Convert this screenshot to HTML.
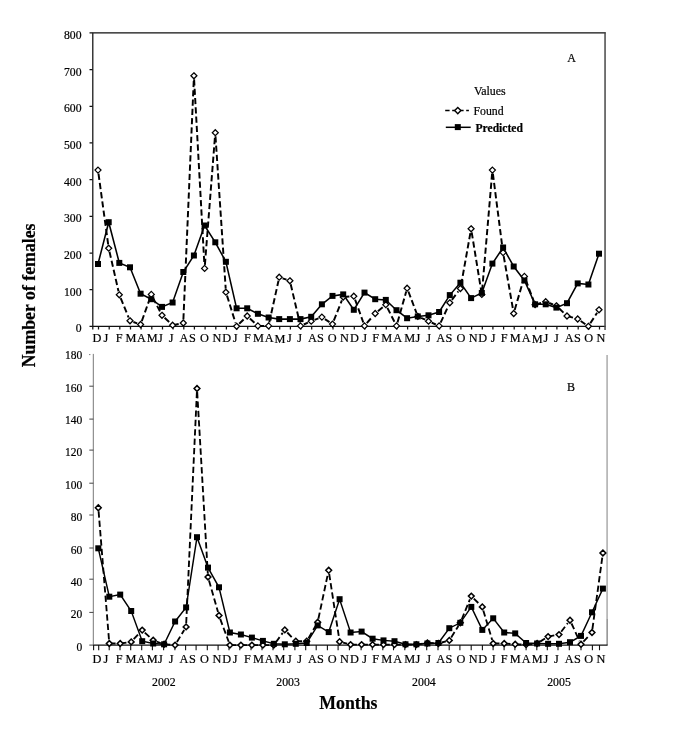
<!DOCTYPE html>
<html><head><meta charset="utf-8"><title>Number of females per month</title>
<style>
html,body{margin:0;padding:0;background:#fff;}
body{width:685px;height:740px;overflow:hidden;}
svg{display:block;font-family:"Liberation Serif","Times New Roman",serif;fill:#000;}
text{stroke:#000;stroke-width:0.2px;}
.tk{font-size:11.7px;text-anchor:end;}
.ml{font-size:12.3px;fill:#000;stroke-width:0.3px;text-anchor:middle;}
.yr{font-size:11.8px;text-anchor:middle;}
.ttl{font-size:17.8px;font-weight:bold;text-anchor:middle;fill:#000;}
</style></head><body>
<svg width="685" height="740" viewBox="0 0 685 740">
<rect width="685" height="740" fill="#fff"/>

<g fill="none" stroke="#111" stroke-width="1.25">
<path d="M605.6 32.9H92.8V326.3H605.6"/>
<path d="M605.05 32.3V330" stroke="#484848" stroke-width="1.5"/>
<path d="M89.5 326.3H92.6M89.5 289.6H92.6M89.5 253.0H92.6M89.5 216.3H92.6M89.5 179.6H92.6M89.5 142.9H92.6M89.5 106.3H92.6M89.5 69.6H92.6M89.5 32.9H92.6"/>
<path d="M92.8 326.3V329.6M98.5 326.3V329.6M109.2 326.3V329.6M119.8 326.3V329.6M130.5 326.3V329.6M141.1 326.3V329.6M151.8 326.3V329.6M162.5 326.3V329.6M173.1 326.3V329.6M183.8 326.3V329.6M194.4 326.3V329.6M205.1 326.3V329.6M215.8 326.3V329.6M226.4 326.3V329.6M237.1 326.3V329.6M247.7 326.3V329.6M258.4 326.3V329.6M269.1 326.3V329.6M279.7 326.3V329.6M290.4 326.3V329.6M301.0 326.3V329.6M311.7 326.3V329.6M322.4 326.3V329.6M333.0 326.3V329.6M343.7 326.3V329.6M354.3 326.3V329.6M365.0 326.3V329.6M375.7 326.3V329.6M386.3 326.3V329.6M397.0 326.3V329.6M407.6 326.3V329.6M418.3 326.3V329.6M429.0 326.3V329.6M439.6 326.3V329.6M450.3 326.3V329.6M460.9 326.3V329.6M471.6 326.3V329.6M482.3 326.3V329.6M492.9 326.3V329.6M503.6 326.3V329.6M514.2 326.3V329.6M524.9 326.3V329.6M535.6 326.3V329.6M546.2 326.3V329.6M556.9 326.3V329.6M567.5 326.3V329.6M578.2 326.3V329.6M588.9 326.3V329.6M599.5 326.3V329.6"/>
</g>
<text class="tk" x="81.5" y="332.2">0</text>
<text class="tk" x="81.5" y="295.5">100</text>
<text class="tk" x="81.5" y="258.8">200</text>
<text class="tk" x="81.5" y="222.1">300</text>
<text class="tk" x="81.5" y="185.5">400</text>
<text class="tk" x="81.5" y="148.8">500</text>
<text class="tk" x="81.5" y="112.1">600</text>
<text class="tk" x="81.5" y="75.5">700</text>
<text class="tk" x="81.5" y="38.8">800</text>
<g fill="none">
<path d="M93.3 353.9V645.1" stroke="#777" stroke-width="1"/>
<path d="M607.1 355V619" stroke="#b0b0b0" stroke-width="1.6"/>
<path d="M607.1 619V645.2" stroke="#555" stroke-width="1"/>
<path d="M93.4 645.1H607.6" stroke="#111" stroke-width="1.1"/>
<path d="M89.3 645.1H93.4M89.3 612.4H93.4M89.3 579.2H93.4M89.3 548.0H93.4M89.3 515.0H93.4M89.3 483.2H93.4M89.3 450.1H93.4M89.3 419.1H93.4M89.3 386.2H93.4M89.3 354.6H90.3" stroke="#444" stroke-width="1"/>
<path d="M93.6 645.1V650.2M98.7 645.1V650.2M109.2 645.1V650.2M120 645.1V650.2M130.7 645.1V650.2M141.7 645.1V650.2M152.4 645.1V650.2M163.6 645.1V650.2M174.9 645.1V650.2M185.6 645.1V650.2M196.1 645.1V650.2M207.3 645.1V650.2M218.1 645.1V650.2M229 645.1V650.2M239.8 645.1V650.2M251 645.1V650.2M262 645.1V650.2M273 645.1V650.2M283.7 645.1V650.2M294.9 645.1V650.2M305.7 645.1V650.2M316.2 645.1V650.2M327.4 645.1V650.2M338.1 645.1V650.2M349.4 645.1V650.2M361.1 645.1V650.2M372.3 645.1V650.2M382.8 645.1V650.2M393.5 645.1V650.2M404.8 645.1V650.2M415.5 645.1V650.2M426.7 645.1V650.2M438 645.1V650.2M449.2 645.1V650.2M459.9 645.1V650.2M471.2 645.1V650.2M482.4 645.1V650.2M493.1 645.1V650.2M504.1 645.1V650.2M514.9 645.1V650.2M526.1 645.1V650.2M536.8 645.1V650.2M547.3 645.1V650.2M558 645.1V650.2M569.3 645.1V650.2M581 645.1V650.2M592.4 645.1V650.2M599.5 645.1V650.2" stroke="#111" stroke-width="1.1"/>
</g>
<text class="tk" x="82.3" y="650.8" style="font-size:11.5px">0</text>
<text class="tk" x="82.3" y="618.4" style="font-size:11.5px">20</text>
<text class="tk" x="82.3" y="586.0" style="font-size:11.5px">40</text>
<text class="tk" x="82.3" y="553.6" style="font-size:11.5px">60</text>
<text class="tk" x="82.3" y="521.2" style="font-size:11.5px">80</text>
<text class="tk" x="82.3" y="488.8" style="font-size:11.5px">100</text>
<text class="tk" x="82.3" y="456.4" style="font-size:11.5px">120</text>
<text class="tk" x="82.3" y="424.0" style="font-size:11.5px">140</text>
<text class="tk" x="82.3" y="391.6" style="font-size:11.5px">160</text>
<text class="tk" x="82.3" y="359.2" style="font-size:11.5px">180</text>
<path d="M98.5 173.7L108.2 244.6M109.5 251.7L118.5 291.3M120.7 298.1L128.6 317.5M133.4 322.0L137.2 323.3M141.8 321.1L150.1 297.8M152.9 297.6L160.3 312.1M164.6 317.7L170.0 322.7M172.6 325.2L183.3 323.0M183.4 319.4L193.8 79.4M194.1 79.4L204.4 264.8M204.9 264.8L215.0 136.3M215.5 136.3L225.7 288.6M227.0 295.6L235.5 322.9M239.2 323.8L244.6 318.5M249.9 318.5L255.3 323.5M257.9 325.9L268.6 325.9M269.3 322.4L278.5 280.7M282.6 278.3L286.5 279.7M290.7 284.3L299.7 322.4M303.8 324.5L307.9 322.6M314.6 319.9L318.5 318.4M324.9 319.1L329.5 322.1M333.8 320.7L341.9 300.3M343.2 297.0L353.8 296.2M355.1 299.6L363.3 322.5M366.8 323.2L372.8 316.2M377.9 311.2L383.0 307.0M387.4 307.9L394.9 322.7M397.5 322.5L406.2 291.6M408.4 291.5L416.5 313.0M421.1 317.9L425.2 319.7M431.7 322.6L435.8 324.5M440.6 322.7L448.3 306.1M451.9 299.9L458.3 291.4M461.1 285.0L470.5 232.3M471.7 232.3L481.2 290.8M482.1 290.8L492.1 173.7M492.9 173.7L502.6 249.0M503.7 256.1L513.1 309.9M514.7 310.0L523.4 279.9M525.7 279.8L533.8 301.3M535.1 304.7L545.7 301.7M549.1 303.0L553.0 304.5M559.0 308.3L564.4 313.5M567.0 316.0L577.7 319.0M580.7 321.0L585.4 324.3M590.3 323.3L597.1 312.8" fill="none" stroke="#000" stroke-width="1.95" stroke-dasharray="6.2 3.1"/>
<polyline points="98.0,264.0 108.7,222.2 119.3,262.9 130.0,267.3 140.6,293.7 151.3,299.2 162.0,306.9 172.6,302.5 183.3,272.0 193.9,255.5 204.6,225.5 215.3,242.3 225.9,261.8 236.6,308.3 247.2,308.3 257.9,313.8 268.6,317.5 279.2,319.1 289.9,319.1 300.5,319.1 311.2,316.8 321.9,304.3 332.5,295.9 343.2,294.4 353.8,309.8 364.5,292.6 375.2,299.2 385.8,299.9 396.5,310.2 407.1,318.2 417.8,316.4 428.5,315.3 439.1,312.0 449.8,295.1 460.4,282.7 471.1,298.1 481.8,292.9 492.4,263.6 503.1,247.5 513.7,266.5 524.4,280.5 535.1,304.3 545.7,304.3 556.4,307.6 567.0,303.2 577.7,283.4 588.4,284.5 599.0,253.7" fill="none" stroke="#000" stroke-width="1.55"/>
<g fill="#fff" stroke="#000" stroke-width="1.25"><path d="M98.0 167.1L101.0 170.1L98.0 173.1L95.0 170.1Z"/><path d="M108.7 245.2L111.7 248.2L108.7 251.2L105.7 248.2Z"/><path d="M119.3 291.8L122.3 294.8L119.3 297.8L116.3 294.8Z"/><path d="M130.0 317.8L133.0 320.8L130.0 323.8L127.0 320.8Z"/><path d="M140.6 321.5L143.6 324.5L140.6 327.5L137.6 324.5Z"/><path d="M151.3 291.4L154.3 294.4L151.3 297.4L148.3 294.4Z"/><path d="M162.0 312.3L165.0 315.3L162.0 318.3L159.0 315.3Z"/><path d="M172.6 322.2L175.6 325.2L172.6 328.2L169.6 325.2Z"/><path d="M183.3 320.0L186.3 323.0L183.3 326.0L180.3 323.0Z"/><path d="M193.9 72.8L196.9 75.8L193.9 78.8L190.9 75.8Z"/><path d="M204.6 265.4L207.6 268.4L204.6 271.4L201.6 268.4Z"/><path d="M215.3 129.7L218.3 132.7L215.3 135.7L212.3 132.7Z"/><path d="M225.9 289.2L228.9 292.2L225.9 295.2L222.9 292.2Z"/><path d="M236.6 323.3L239.6 326.3L236.6 329.3L233.6 326.3Z"/><path d="M247.2 313.0L250.2 316.0L247.2 319.0L244.2 316.0Z"/><path d="M257.9 322.9L260.9 325.9L257.9 328.9L254.9 325.9Z"/><path d="M268.6 322.9L271.6 325.9L268.6 328.9L265.6 325.9Z"/><path d="M279.2 274.2L282.2 277.2L279.2 280.2L276.2 277.2Z"/><path d="M289.9 277.8L292.9 280.8L289.9 283.8L286.9 280.8Z"/><path d="M300.5 322.9L303.5 325.9L300.5 328.9L297.5 325.9Z"/><path d="M311.2 318.2L314.2 321.2L311.2 324.2L308.2 321.2Z"/><path d="M321.9 314.1L324.9 317.1L321.9 320.1L318.9 317.1Z"/><path d="M332.5 321.1L335.5 324.1L332.5 327.1L329.5 324.1Z"/><path d="M343.2 294.0L346.2 297.0L343.2 300.0L340.2 297.0Z"/><path d="M353.8 293.2L356.8 296.2L353.8 299.2L350.8 296.2Z"/><path d="M364.5 322.9L367.5 325.9L364.5 328.9L361.5 325.9Z"/><path d="M375.2 310.5L378.2 313.5L375.2 316.5L372.2 313.5Z"/><path d="M385.8 301.7L388.8 304.7L385.8 307.7L382.8 304.7Z"/><path d="M396.5 322.9L399.5 325.9L396.5 328.9L393.5 325.9Z"/><path d="M407.1 285.2L410.1 288.2L407.1 291.2L404.1 288.2Z"/><path d="M417.8 313.4L420.8 316.4L417.8 319.4L414.8 316.4Z"/><path d="M428.5 318.2L431.5 321.2L428.5 324.2L425.5 321.2Z"/><path d="M439.1 322.9L442.1 325.9L439.1 328.9L436.1 325.9Z"/><path d="M449.8 299.8L452.8 302.8L449.8 305.8L446.8 302.8Z"/><path d="M460.4 285.5L463.4 288.5L460.4 291.5L457.4 288.5Z"/><path d="M471.1 225.8L474.1 228.8L471.1 231.8L468.1 228.8Z"/><path d="M481.8 291.4L484.8 294.4L481.8 297.4L478.8 294.4Z"/><path d="M492.4 167.1L495.4 170.1L492.4 173.1L489.4 170.1Z"/><path d="M503.1 249.6L506.1 252.6L503.1 255.6L500.1 252.6Z"/><path d="M513.7 310.5L516.7 313.5L513.7 316.5L510.7 313.5Z"/><path d="M524.4 273.4L527.4 276.4L524.4 279.4L521.4 276.4Z"/><path d="M535.1 301.7L538.1 304.7L535.1 307.7L532.1 304.7Z"/><path d="M545.7 298.7L548.7 301.7L545.7 304.7L542.7 301.7Z"/><path d="M556.4 302.8L559.4 305.8L556.4 308.8L553.4 305.8Z"/><path d="M567.0 313.0L570.0 316.0L567.0 319.0L564.0 316.0Z"/><path d="M577.7 316.0L580.7 319.0L577.7 322.0L574.7 319.0Z"/><path d="M588.4 323.3L591.4 326.3L588.4 329.3L585.4 326.3Z"/><path d="M599.0 306.8L602.0 309.8L599.0 312.8L596.0 309.8Z"/></g>
<g fill="#000"><rect x="95.0" y="261.0" width="6" height="6"/><rect x="105.7" y="219.2" width="6" height="6"/><rect x="116.3" y="259.9" width="6" height="6"/><rect x="127.0" y="264.3" width="6" height="6"/><rect x="137.6" y="290.7" width="6" height="6"/><rect x="148.3" y="296.2" width="6" height="6"/><rect x="159.0" y="303.9" width="6" height="6"/><rect x="169.6" y="299.5" width="6" height="6"/><rect x="180.3" y="269.0" width="6" height="6"/><rect x="190.9" y="252.5" width="6" height="6"/><rect x="201.6" y="222.5" width="6" height="6"/><rect x="212.3" y="239.3" width="6" height="6"/><rect x="222.9" y="258.8" width="6" height="6"/><rect x="233.6" y="305.3" width="6" height="6"/><rect x="244.2" y="305.3" width="6" height="6"/><rect x="254.9" y="310.8" width="6" height="6"/><rect x="265.6" y="314.5" width="6" height="6"/><rect x="276.2" y="316.1" width="6" height="6"/><rect x="286.9" y="316.1" width="6" height="6"/><rect x="297.5" y="316.1" width="6" height="6"/><rect x="308.2" y="313.8" width="6" height="6"/><rect x="318.9" y="301.3" width="6" height="6"/><rect x="329.5" y="292.9" width="6" height="6"/><rect x="340.2" y="291.4" width="6" height="6"/><rect x="350.8" y="306.8" width="6" height="6"/><rect x="361.5" y="289.6" width="6" height="6"/><rect x="372.2" y="296.2" width="6" height="6"/><rect x="382.8" y="296.9" width="6" height="6"/><rect x="393.5" y="307.2" width="6" height="6"/><rect x="404.1" y="315.2" width="6" height="6"/><rect x="414.8" y="313.4" width="6" height="6"/><rect x="425.5" y="312.3" width="6" height="6"/><rect x="436.1" y="309.0" width="6" height="6"/><rect x="446.8" y="292.1" width="6" height="6"/><rect x="457.4" y="279.7" width="6" height="6"/><rect x="468.1" y="295.1" width="6" height="6"/><rect x="478.8" y="289.9" width="6" height="6"/><rect x="489.4" y="260.6" width="6" height="6"/><rect x="500.1" y="244.5" width="6" height="6"/><rect x="510.7" y="263.5" width="6" height="6"/><rect x="521.4" y="277.5" width="6" height="6"/><rect x="532.1" y="301.3" width="6" height="6"/><rect x="542.7" y="301.3" width="6" height="6"/><rect x="553.4" y="304.6" width="6" height="6"/><rect x="564.0" y="300.2" width="6" height="6"/><rect x="574.7" y="280.4" width="6" height="6"/><rect x="585.4" y="281.5" width="6" height="6"/><rect x="596.0" y="250.7" width="6" height="6"/></g>
<path d="M98.6 511.3L109.0 639.9M109.3 643.5L120.2 643.5M120.2 643.5L131.2 641.9M133.7 639.2L139.7 632.7M144.8 632.6L150.5 637.8M156.5 641.5L160.7 643.1M164.1 644.3L175.1 645.1M176.9 642.0L184.2 630.0M186.2 623.3L196.9 392.1M197.2 392.1L207.8 573.4M209.0 580.4L218.0 612.1M220.2 618.9L228.7 641.7M229.9 645.1L240.9 645.1M240.9 645.1L251.9 645.1M251.9 645.1L262.9 645.1M262.9 645.1L273.8 645.1M275.9 642.2L282.7 632.9M287.3 632.5L293.3 638.7M295.8 641.2L306.7 641.2M308.5 638.1L315.9 625.4M318.4 618.8L327.9 573.8M329.2 573.9L339.1 638.2M343.1 642.6L347.1 643.7M350.6 644.6L361.6 644.6M361.6 644.6L372.6 644.6M372.6 644.6L383.5 644.6M383.5 644.6L394.5 644.6M394.5 644.6L405.5 644.6M405.5 644.6L416.4 644.6M416.4 644.6L427.4 643.0M427.4 643.0L438.4 643.5M441.8 642.5L445.9 641.4M451.2 637.4L458.4 625.9M461.7 619.5L469.9 599.4M473.8 598.6L479.7 604.4M483.3 610.4L492.2 640.0M493.2 643.5L504.2 643.5M504.2 643.5L515.2 644.3M515.2 644.3L526.1 644.6M526.1 644.6L537.1 643.5M540.1 641.6L545.0 638.5M548.1 636.6L559.0 634.6M561.2 631.8L567.8 623.1M571.5 623.5L579.5 641.0M583.4 641.7L589.5 635.2M592.4 629.0L602.4 556.5" fill="none" stroke="#000" stroke-width="1.85" stroke-dasharray="6.3 3.1"/>
<polyline points="98.3,548.3 109.3,596.7 120.2,594.6 131.2,611.0 142.2,641.2 153.2,643.5 164.1,644.3 175.1,621.5 186.1,607.4 197.0,537.2 208.0,567.6 219.0,587.3 229.9,632.5 240.9,634.5 251.9,637.6 262.9,640.9 273.8,643.8 284.8,644.3 295.8,643.8 306.7,643.0 317.7,625.4 328.7,632.1 339.6,599.2 350.6,632.5 361.6,631.6 372.6,638.7 383.5,640.4 394.5,641.2 405.5,644.3 416.4,644.3 427.4,643.5 438.4,643.0 449.3,628.2 460.3,622.8 471.3,606.9 482.3,629.9 493.2,618.3 504.2,632.5 515.2,633.4 526.1,643.0 537.1,643.5 548.1,643.8 559.0,643.8 570.0,642.2 581.0,635.9 592.0,612.3 602.9,588.6" fill="none" stroke="#000" stroke-width="1.45"/>
<g fill="#fff" stroke="#000" stroke-width="1.5"><path d="M98.3 504.9L101.2 507.8L98.3 510.7L95.4 507.8Z"/><path d="M109.3 640.6L112.2 643.5L109.3 646.4L106.4 643.5Z"/><path d="M120.2 640.6L123.1 643.5L120.2 646.4L117.3 643.5Z"/><path d="M131.2 639.0L134.1 641.9L131.2 644.8L128.3 641.9Z"/><path d="M142.2 627.2L145.1 630.1L142.2 633.0L139.3 630.1Z"/><path d="M153.2 637.4L156.1 640.3L153.2 643.2L150.2 640.3Z"/><path d="M164.1 641.4L167.0 644.3L164.1 647.2L161.2 644.3Z"/><path d="M175.1 642.2L178.0 645.1L175.1 648.0L172.2 645.1Z"/><path d="M186.1 624.0L189.0 626.9L186.1 629.8L183.2 626.9Z"/><path d="M197.0 385.6L199.9 388.5L197.0 391.4L194.1 388.5Z"/><path d="M208.0 574.1L210.9 577.0L208.0 579.9L205.1 577.0Z"/><path d="M219.0 612.6L221.9 615.5L219.0 618.4L216.1 615.5Z"/><path d="M229.9 642.2L232.8 645.1L229.9 648.0L227.0 645.1Z"/><path d="M240.9 642.2L243.8 645.1L240.9 648.0L238.0 645.1Z"/><path d="M251.9 642.2L254.8 645.1L251.9 648.0L249.0 645.1Z"/><path d="M262.9 642.2L265.8 645.1L262.9 648.0L260.0 645.1Z"/><path d="M273.8 642.2L276.7 645.1L273.8 648.0L270.9 645.1Z"/><path d="M284.8 627.0L287.7 629.9L284.8 632.8L281.9 629.9Z"/><path d="M295.8 638.3L298.7 641.2L295.8 644.1L292.9 641.2Z"/><path d="M306.7 638.3L309.6 641.2L306.7 644.1L303.8 641.2Z"/><path d="M317.7 619.4L320.6 622.3L317.7 625.2L314.8 622.3Z"/><path d="M328.7 567.4L331.6 570.3L328.7 573.2L325.8 570.3Z"/><path d="M339.6 638.8L342.5 641.7L339.6 644.6L336.7 641.7Z"/><path d="M350.6 641.7L353.5 644.6L350.6 647.5L347.7 644.6Z"/><path d="M361.6 641.7L364.5 644.6L361.6 647.5L358.7 644.6Z"/><path d="M372.6 641.7L375.4 644.6L372.6 647.5L369.7 644.6Z"/><path d="M383.5 641.7L386.4 644.6L383.5 647.5L380.6 644.6Z"/><path d="M394.5 641.7L397.4 644.6L394.5 647.5L391.6 644.6Z"/><path d="M405.5 641.7L408.4 644.6L405.5 647.5L402.6 644.6Z"/><path d="M416.4 641.7L419.3 644.6L416.4 647.5L413.5 644.6Z"/><path d="M427.4 640.1L430.3 643.0L427.4 645.9L424.5 643.0Z"/><path d="M438.4 640.6L441.3 643.5L438.4 646.4L435.5 643.5Z"/><path d="M449.3 637.5L452.2 640.4L449.3 643.3L446.4 640.4Z"/><path d="M460.3 619.9L463.2 622.8L460.3 625.7L457.4 622.8Z"/><path d="M471.3 593.2L474.2 596.1L471.3 599.0L468.4 596.1Z"/><path d="M482.3 604.0L485.2 606.9L482.3 609.8L479.4 606.9Z"/><path d="M493.2 640.6L496.1 643.5L493.2 646.4L490.3 643.5Z"/><path d="M504.2 640.6L507.1 643.5L504.2 646.4L501.3 643.5Z"/><path d="M515.2 641.4L518.1 644.3L515.2 647.2L512.3 644.3Z"/><path d="M526.1 641.7L529.0 644.6L526.1 647.5L523.2 644.6Z"/><path d="M537.1 640.6L540.0 643.5L537.1 646.4L534.2 643.5Z"/><path d="M548.1 633.7L551.0 636.6L548.1 639.5L545.2 636.6Z"/><path d="M559.0 631.7L561.9 634.6L559.0 637.5L556.1 634.6Z"/><path d="M570.0 617.3L572.9 620.2L570.0 623.1L567.1 620.2Z"/><path d="M581.0 641.4L583.9 644.3L581.0 647.2L578.1 644.3Z"/><path d="M592.0 629.6L594.9 632.5L592.0 635.4L589.1 632.5Z"/><path d="M602.9 550.1L605.8 553.0L602.9 555.9L600.0 553.0Z"/></g>
<g fill="#000"><rect x="95.3" y="545.3" width="6" height="6"/><rect x="106.3" y="593.7" width="6" height="6"/><rect x="117.2" y="591.6" width="6" height="6"/><rect x="128.2" y="608.0" width="6" height="6"/><rect x="139.2" y="638.2" width="6" height="6"/><rect x="150.2" y="640.5" width="6" height="6"/><rect x="161.1" y="641.3" width="6" height="6"/><rect x="172.1" y="618.5" width="6" height="6"/><rect x="183.1" y="604.4" width="6" height="6"/><rect x="194.0" y="534.2" width="6" height="6"/><rect x="205.0" y="564.6" width="6" height="6"/><rect x="216.0" y="584.3" width="6" height="6"/><rect x="226.9" y="629.5" width="6" height="6"/><rect x="237.9" y="631.5" width="6" height="6"/><rect x="248.9" y="634.6" width="6" height="6"/><rect x="259.9" y="637.9" width="6" height="6"/><rect x="270.8" y="640.8" width="6" height="6"/><rect x="281.8" y="641.3" width="6" height="6"/><rect x="292.8" y="640.8" width="6" height="6"/><rect x="303.7" y="640.0" width="6" height="6"/><rect x="314.7" y="622.4" width="6" height="6"/><rect x="325.7" y="629.1" width="6" height="6"/><rect x="336.6" y="596.2" width="6" height="6"/><rect x="347.6" y="629.5" width="6" height="6"/><rect x="358.6" y="628.6" width="6" height="6"/><rect x="369.6" y="635.7" width="6" height="6"/><rect x="380.5" y="637.4" width="6" height="6"/><rect x="391.5" y="638.2" width="6" height="6"/><rect x="402.5" y="641.3" width="6" height="6"/><rect x="413.4" y="641.3" width="6" height="6"/><rect x="424.4" y="640.5" width="6" height="6"/><rect x="435.4" y="640.0" width="6" height="6"/><rect x="446.3" y="625.2" width="6" height="6"/><rect x="457.3" y="619.8" width="6" height="6"/><rect x="468.3" y="603.9" width="6" height="6"/><rect x="479.3" y="626.9" width="6" height="6"/><rect x="490.2" y="615.3" width="6" height="6"/><rect x="501.2" y="629.5" width="6" height="6"/><rect x="512.2" y="630.4" width="6" height="6"/><rect x="523.1" y="640.0" width="6" height="6"/><rect x="534.1" y="640.5" width="6" height="6"/><rect x="545.1" y="640.8" width="6" height="6"/><rect x="556.0" y="640.8" width="6" height="6"/><rect x="567.0" y="639.2" width="6" height="6"/><rect x="578.0" y="632.9" width="6" height="6"/><rect x="589.0" y="609.3" width="6" height="6"/><rect x="599.9" y="585.6" width="6" height="6"/></g>
<g class="ml"><text x="96.9" y="342.2">D</text><text x="106.0" y="342.2">J</text><text x="119.1" y="342.2">F</text><text x="131.0" y="342.2">M</text><text x="141.5" y="342.2">A</text><text x="152.2" y="342.2">M</text><text x="160.5" y="342.2">J</text><text x="171.2" y="342.2">J</text><text x="184.0" y="342.2">A</text><text x="192.5" y="342.2">S</text><text x="204.4" y="342.2">O</text><text x="217.0" y="342.2">N</text><text x="226.7" y="342.2">D</text><text x="235.2" y="342.2">J</text><text x="247.4" y="342.2">F</text><text x="258.5" y="342.2">M</text><text x="269.1" y="342.2">A</text><text x="280.0" y="342.8">M</text><text x="289.5" y="342.2">J</text><text x="299.6" y="342.2">J</text><text x="312.5" y="342.2">A</text><text x="320.3" y="342.2">S</text><text x="332.2" y="342.2">O</text><text x="344.5" y="342.2">N</text><text x="354.4" y="342.2">D</text><text x="364.6" y="342.2">J</text><text x="375.7" y="342.2">F</text><text x="386.6" y="342.2">M</text><text x="397.6" y="342.2">A</text><text x="409.6" y="342.2">M</text><text x="417.9" y="342.2">J</text><text x="428.6" y="342.2">J</text><text x="440.8" y="342.2">A</text><text x="448.8" y="342.2">S</text><text x="461.0" y="342.2">O</text><text x="473.1" y="342.2">N</text><text x="482.8" y="342.2">D</text><text x="493.1" y="342.2">J</text><text x="504.1" y="342.2">F</text><text x="515.1" y="342.2">M</text><text x="526.1" y="342.2">A</text><text x="537.1" y="342.8">M</text><text x="545.8" y="342.2">J</text><text x="556.3" y="342.2">J</text><text x="569.2" y="342.2">A</text><text x="577.4" y="342.2">S</text><text x="588.7" y="342.2">O</text><text x="600.9" y="342.2">N</text></g>
<g class="ml"><text x="96.9" y="662.8">D</text><text x="106.0" y="662.8">J</text><text x="119.1" y="662.8">F</text><text x="131.0" y="662.8">M</text><text x="141.5" y="662.8">A</text><text x="152.2" y="662.8">M</text><text x="160.5" y="662.8">J</text><text x="171.2" y="662.8">J</text><text x="184.0" y="662.8">A</text><text x="192.5" y="662.8">S</text><text x="204.4" y="662.8">O</text><text x="217.0" y="662.8">N</text><text x="226.7" y="662.8">D</text><text x="235.2" y="662.8">J</text><text x="247.4" y="662.8">F</text><text x="258.5" y="662.8">M</text><text x="269.1" y="662.8">A</text><text x="280.0" y="663.4">M</text><text x="289.5" y="662.8">J</text><text x="299.6" y="662.8">J</text><text x="312.5" y="662.8">A</text><text x="320.3" y="662.8">S</text><text x="332.2" y="662.8">O</text><text x="344.5" y="662.8">N</text><text x="354.4" y="662.8">D</text><text x="364.6" y="662.8">J</text><text x="375.7" y="662.8">F</text><text x="386.6" y="662.8">M</text><text x="397.6" y="662.8">A</text><text x="409.6" y="662.8">M</text><text x="417.9" y="662.8">J</text><text x="428.6" y="662.8">J</text><text x="440.8" y="662.8">A</text><text x="448.8" y="662.8">S</text><text x="461.0" y="662.8">O</text><text x="473.1" y="662.8">N</text><text x="482.8" y="662.8">D</text><text x="493.1" y="662.8">J</text><text x="504.1" y="662.8">F</text><text x="515.1" y="662.8">M</text><text x="526.1" y="662.8">A</text><text x="537.1" y="663.4">M</text><text x="545.8" y="662.8">J</text><text x="556.3" y="662.8">J</text><text x="569.2" y="662.8">A</text><text x="577.4" y="662.8">S</text><text x="588.7" y="662.8">O</text><text x="600.9" y="662.8">N</text></g>
<text class="yr" x="163.8" y="686.2">2002</text>
<text class="yr" x="288.1" y="686.2">2003</text>
<text class="yr" x="423.9" y="686.2">2004</text>
<text class="yr" x="559" y="686.2">2005</text>
<text class="ttl" x="348.4" y="709.4">Months</text>
<text class="ttl" transform="translate(35 295.4) rotate(-90)">Number of females</text>
<text x="567.3" y="61.8" font-size="12">A</text>
<text x="567.0" y="390.6" font-size="12">B</text>
<text x="474" y="95.3" font-size="11.9">Values</text>
<text x="473.5" y="114.9" font-size="11.8">Found</text>
<text x="475.5" y="132" font-size="11.6" font-weight="bold" fill="#000">Predicted</text>
<path d="M445.2 110.6H468.9" stroke="#000" stroke-width="1.5" stroke-dasharray="4.4 2.6" fill="none"/>
<path d="M457.8 107.5L460.9 110.6L457.8 113.7L454.7 110.6Z" fill="#fff" stroke="#000" stroke-width="1.4"/>
<path d="M445.8 127.3H470.7" stroke="#000" stroke-width="1.5" fill="none"/>
<rect x="454.8" y="124.1" width="6" height="6" fill="#000"/>
</svg></body></html>
